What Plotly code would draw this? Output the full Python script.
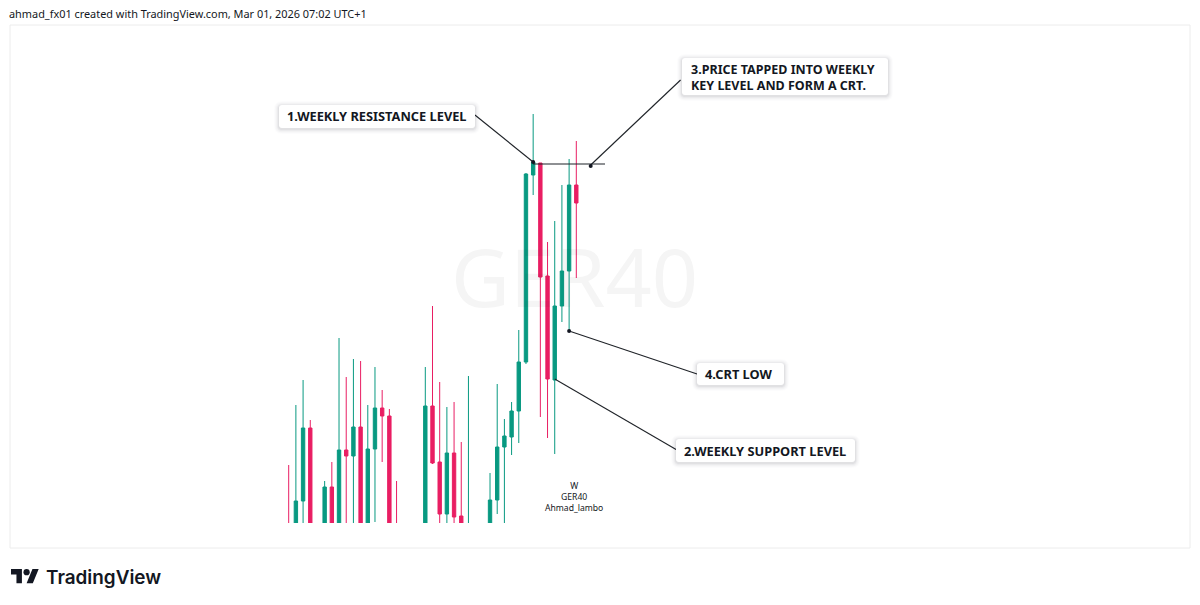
import plotly.graph_objects as go

# Weekly GER40 candles (indices missing where the whole candle sits below the visible window)
week = [0,1,2,3,5,6,7,8,9,10,11,12,13,14,15,19,20,21,22,23,24,25,28,29,30,31,32,33,34,35,36,37,38,39,40]
opens = [21340,21240,21630,22360,21240,21770,21340,22140,22080,22370,21340,22150,22560,22480,21340,21340,22580,22020,21500,22110,21480,21190,21240,21640,22170,22270,22530,23020,24890,25010,23880,22840,23580,23930,24790]
highs = [21990,22590,22840,22440,21830,22020,23260,22870,23050,23030,22590,22970,22740,22550,21830,22970,23580,22820,22570,22620,22220,22880,21910,22800,22450,22620,23340,24910,25500,25010,24220,24430,24790,25050,25230]
lows = [20940,21140,21340,21240,21140,21140,21240,21340,21340,21240,21240,21420,22020,21240,21090,21240,22000,21340,21340,21340,21240,21090,21140,21500,21340,22090,22210,23000,24690,22470,22260,22100,23420,23330,23860]
closes = [21040,21630,22360,21340,21770,21240,22140,22080,22370,21340,22150,22560,22480,21340,21190,22580,22010,21500,22110,21470,21340,21340,21640,22170,22280,22530,23020,24900,25020,23870,22850,23580,23930,24790,24610]

level_x = [34, 44]
level_y = [25000, 25000]
# callouts: [box end, anchor]
call1_x, call1_y = [25.9, 34], [25490, 25020]
call2_x, call2_y = [54, 37], [22140, 22850]
call3_x, call3_y = [54.5, 42], [25840, 24990]
call4_x, call4_y = [56.8, 39], [22900, 23330]
dots_x, dots_y = [34, 39, 42], [25020, 23330, 24980]

title_text = "ahmad_fx01 created with TradingView.com, Mar 01, 2026 07:02 UTC+1"
box_texts = ["1.WEEKLY RESISTANCE LEVEL", "2.WEEKLY SUPPORT LEVEL",
             "3.PRICE TAPPED INTO WEEKLY<br>KEY LEVEL AND FORM A CRT.", "4.CRT LOW"]
sign_text = "W<br>GER40<br>Ahmad_lambo"

W, H = 1200, 605
L, R, T, B = 10, 1190, 26, 523
def px(x): return (x - L) / (R - L)
def py(y): return (B - y) / (B - T)

TEAL, PINK, INK = "#089981", "#E91E63", "#131722"
FONT = "Noto Sans"

fig = go.Figure()
fig.add_trace(go.Candlestick(x=week, open=opens, high=highs, low=lows, close=closes,
    increasing=dict(line=dict(color=TEAL, width=1), fillcolor=TEAL),
    decreasing=dict(line=dict(color=PINK, width=1), fillcolor=PINK),
    hoverinfo="skip", showlegend=False))
for xs, ys in [(level_x, level_y), (call1_x, call1_y), (call2_x, call2_y), (call3_x, call3_y), (call4_x, call4_y)]:
    fig.add_trace(go.Scatter(x=xs, y=ys, mode="lines", line=dict(color="#1f2328", width=1.1),
                             hoverinfo="skip", showlegend=False))
fig.add_trace(go.Scatter(x=dots_x, y=dots_y, mode="markers", marker=dict(color="#131722", size=4),
                         hoverinfo="skip", showlegend=False))

def rrect(x0, y0, x1, y1, r=3):
    X0, X1 = px(x0), px(x1); Y0, Y1 = py(y0), py(y1)
    rx, ry = r / (R - L), r / (B - T)
    return (f"M{X0+rx},{Y0} L{X1-rx},{Y0} Q{X1},{Y0} {X1},{Y0-ry} L{X1},{Y1+ry} Q{X1},{Y1} {X1-rx},{Y1} "
            f"L{X0+rx},{Y1} Q{X0},{Y1} {X0},{Y1+ry} L{X0},{Y0-ry} Q{X0},{Y0} {X0+rx},{Y0} Z")

shapes = [dict(type="rect", xref="paper", yref="paper", x0=px(10), x1=px(1190), y0=py(25), y1=py(548),
               line=dict(color="#ececec", width=1), fillcolor="rgba(0,0,0,0)", layer="below")]
boxes = [(279, 105, 475, 128), (676, 439, 855, 462), (682, 58, 888, 95), (697, 363, 784, 385)]
for (x0, y0, x1, y1) in boxes:
    for g, a in [(5, 0.012), (4, 0.018), (3, 0.025), (2, 0.035), (1, 0.05)]:
        shapes.append(dict(type="path", xref="paper", yref="paper",
                           path=rrect(x0 - g, y0 - g + 1, x1 + g, y1 + g + 1, 3 + g),
                           fillcolor=f"rgba(30,40,60,{a})", line=dict(width=0), layer="above"))
    shapes.append(dict(type="path", xref="paper", yref="paper", path=rrect(x0, y0, x1, y1, 3),
                       fillcolor="#ffffff", line=dict(width=0), layer="above"))

# TradingView logo
def lx(v): return px(11 + v * 0.78)
def ly(v): return py(566 + v * 0.78)
shapes.append(dict(type="path", xref="paper", yref="paper",
    path=f"M{lx(14)},{ly(22)} L{lx(7)},{ly(22)} L{lx(7)},{ly(11)} L{lx(0)},{ly(11)} L{lx(0)},{ly(4)} L{lx(14)},{ly(4)} Z "
         f"M{lx(28)},{ly(22)} L{lx(20)},{ly(22)} L{lx(27.5)},{ly(4)} L{lx(35.5)},{ly(4)} Z",
    fillcolor="#131722", line=dict(width=0)))
shapes.append(dict(type="circle", xref="paper", yref="paper", x0=lx(16), x1=lx(24), y0=ly(12), y1=ly(4),
                   fillcolor="#131722", line=dict(width=0)))

annos = []
def text(x, y, s, size, color=INK, family=FONT, xanchor="left", align="left", bold=False, weight=None):
    f = dict(size=size, color=color, family=family)
    if weight:
        f["weight"] = weight
    annos.append(dict(xref="paper", yref="paper", x=px(x), y=py(y), text=f"<b>{s}</b>" if bold else s,
                      showarrow=False, xanchor=xanchor, yanchor="middle", align=align,
                      font=f, borderpad=0))
text(574, 275, "GER40", 81, color="rgba(19,23,34,0.045)", xanchor="center", align="center")
text(8, 13.5, title_text, 10.9, family="Noto Sans")
text(286, 115.5, box_texts[0], 12.8, bold=True)
text(683, 451, box_texts[1], 12.8, bold=True)
text(690, 77, box_texts[2], 12.5, bold=True)
text(704, 374, box_texts[3], 12.8, bold=True)
text(574, 497.5, sign_text, 8.6, xanchor="center", align="center")
text(45, 577, "TradingView", 18.9, family="Inter", color="#131722", weight=600)

fig.update_layout(width=W, height=H, margin=dict(l=L, r=W - R, t=T, b=H - B, pad=0, autoexpand=False),
    paper_bgcolor="#ffffff", plot_bgcolor="rgba(0,0,0,0)", showlegend=False, shapes=shapes, annotations=annos,
    boxgap=0.33,
    xaxis=dict(range=[(10 - 288.7) / 7.19, (1190 - 288.7) / 7.19], visible=False, rangeslider=dict(visible=False), fixedrange=True),
    yaxis=dict(range=[26640 - 10 * 523, 26640 - 10 * 26], visible=False, fixedrange=True))

fig.write_html("out.html", config=dict(displayModeBar=False), post_script="document.body.style.margin='0';")
